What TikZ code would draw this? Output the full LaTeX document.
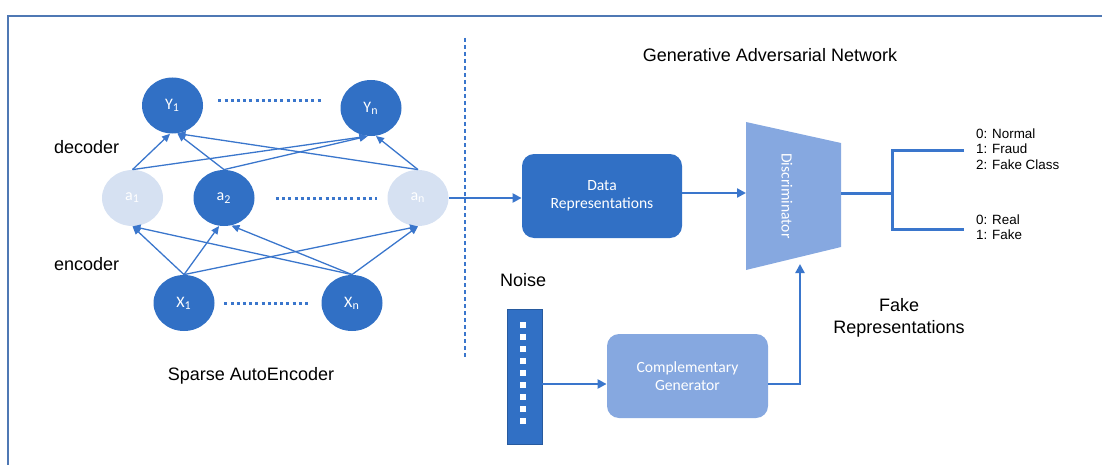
\documentclass[tikz,border=0pt]{standalone}
\usepackage{fontspec}
\setmainfont{Liberation Sans}
\newfontfamily\boxfont{Carlito}
\usetikzlibrary{shapes.geometric,arrows.meta}

\definecolor{fonce}{RGB}{49,112,197}
\definecolor{moyen}{RGB}{134,168,224}
\definecolor{pale}{RGB}{214,225,242}
\definecolor{trait}{RGB}{58,118,204}
\definecolor{cadre}{RGB}{79,120,180}

\begin{document}
\begin{tikzpicture}[x=0.5pt,y=-0.5pt,
  neurone/.style={ellipse,fill=fonce,minimum width=30.5pt,minimum height=28pt,inner sep=0pt,
    text=white,font=\boxfont\fontsize{8}{9}\selectfont},
  eteint/.style={neurone,fill=pale},
  fleche/.style={-{Triangle[length=4pt,width=3.6pt]},color=trait,line width=0.65pt},
  grosse/.style={-{Triangle[length=4.5pt,width=4.5pt]},color=trait,line width=1.1pt},
  pointille/.style={color=trait,line width=1.5pt,dash pattern=on 1.5pt off 1.6pt},
  boite/.style={rounded corners=6pt,minimum width=80pt,minimum height=42pt,inner sep=0pt,
    text=white,align=center,font=\boxfont\fontsize{7.8}{9}\selectfont},
  texte/.style={font=\fontsize{9}{11}\selectfont},
  petit/.style={font=\fontsize{6.7}{7.75}\selectfont,align=left}]

  \useasboundingbox (0,0) rectangle (1102,465);

  %cadre
  \draw[cadre,line width=1pt] (8,470) -- (8,16) -- (1110,16);

  %separation
  \draw[trait,line width=0.6pt,dash pattern=on 2pt off 1.5pt] (465,38) -- (465,357);

  %autoencodeur
  \node[neurone] (Y1) at (172.5,105.5) {Y\textsubscript{1}};
  \node[neurone] (Yn) at (371,108) {Y\textsubscript{n}};
  \node[eteint] (a1) at (132.5,198) {a\textsubscript{1}};
  \node[neurone] (a2) at (224,198) {a\textsubscript{2}};
  \node[eteint] (an) at (418,198) {a\textsubscript{n}};
  \node[neurone] (X1) at (184,303) {X\textsubscript{1}};
  \node[neurone] (Xn) at (352,303) {X\textsubscript{n}};

  %pointilles
  \draw[pointille] ([shift={(7.5pt,2.25pt)}]Y1.east) -- ([shift={(-9.5pt,3.5pt)}]Yn.west);
  \draw[pointille] ([xshift=10.5pt]a2.east) -- ([xshift=-5pt]an.west);
  \draw[pointille] ([xshift=4.75pt]X1.east) -- ([xshift=-5.75pt]Xn.west);

  %decodeur
  \draw[fleche] (a1.north) -- (Y1.-95);
  \draw[fleche] (a1.north) -- (Yn.-97);
  \draw[fleche] (a2.north) -- (Y1.-80);
  \draw[fleche] (a2.north) -- (Yn.-97);
  \draw[fleche] (an.north) -- (Y1.-80);
  \draw[fleche] (an.north) -- (Yn.-80);

  %encodeur
  \draw[fleche] (X1.north) -- (a1.south);
  \draw[fleche] (X1.north) -- (a2.-100);
  \draw[fleche] (X1.north) -- (an.south);
  \draw[fleche] (Xn.north) -- (a1.south);
  \draw[fleche] (Xn.north) -- (a2.-75);
  \draw[fleche] (Xn.north) -- (an.south);

  \node[texte,anchor=west] (dec) at (47,147) {decoder};
  \node[texte,anchor=west] (enc) at (47,264) {encoder};
  \node[texte] (sae) at (251,376) {Sparse AutoEncoder};

  %GAN
  \node[texte] (gan) at (770,55) {Generative Adversarial Network};
  \node[boite,fill=fonce] (data) at (602,196) {Data\\Representations};
  \node[boite,fill=moyen,minimum width=80.5pt] (gen) at (687.5,376) {Complementary\\Generator};

  %discriminateur
  \fill[moyen] (746,122) -- (841,143) -- (841,247) -- (746,270) -- cycle;
  \node[rotate=-90,text=white,font=\boxfont\fontsize{7.8}{9}\selectfont] (disc) at (787,196) {Discriminator};
  \coordinate (discL) at (746,193);
  \coordinate (discR) at (841,193);
  \coordinate (discB) at (800,264);

  %bruit
  \node[texte,anchor=west] (bruit) at (493,280) {Noise};
  \node[fill=fonce,draw=fonce!80!black,line width=0.4pt,minimum width=17.5pt,minimum height=67.5pt,inner sep=0pt] (noise) at (524.5,376.5) {};
  \foreach \k in {0,...,8}
    \fill[white] (520,322+12*\k) rectangle (526,328+12*\k);

  %fleches
  \coordinate (nz) at ([yshift=-3.75pt]noise.east);
  \draw[grosse] (nz) -- (gen.west |- nz);
  \draw[grosse] (an.east) -- (data.west |- an.east);
  \draw[grosse] ([yshift=1.5pt]data.east) -- (discL);
  \draw[grosse] (gen.east |- nz) -| (discB);

  %sorties
  \coordinate (br) at (892,193);
  \coordinate (o1) at (964,150);
  \coordinate (o2) at (964,229);
  \draw[trait,line width=1.5pt] (discR) -- (br);
  \draw[trait,line width=1.5pt] (o1) -| (br) |- (o2);
  \node[petit,anchor=west] (lab1) at (969,149) {0: Normal\\1: Fraud\\2: Fake Class};
  \node[petit,anchor=west] (lab2) at (969,227) {0: Real\\1: Fake};

  \node[texte,align=center] (fake) at (899,318) {Fake\\Representations};
\end{tikzpicture}
\end{document}
